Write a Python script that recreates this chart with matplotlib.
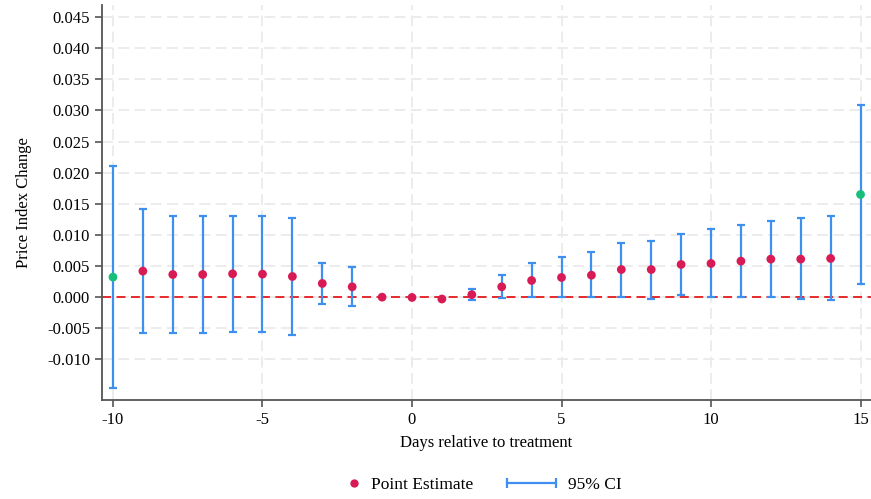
import numpy as np
import matplotlib
matplotlib.use("Agg")
import matplotlib.pyplot as plt
from matplotlib.lines import Line2D

plt.rcParams['font.family'] = ['Liberation Serif', 'DejaVu Serif']
plt.rcParams['axes.unicode_minus'] = False

# event-study estimates, days relative to treatment
days = [-10, -9, -8, -7, -6, -5, -4, -3, -2, -1, 0, 1, 2, 3, 4,
        5, 6, 7, 8, 9, 10, 11, 12, 13, 14, 15]
estimate = [0.00322, 0.00418, 0.00364, 0.00364, 0.00375, 0.00370, 0.00332,
            0.00220, 0.00166, 0.0, -0.00005, -0.00030, 0.00040, 0.00166,
            0.00268, 0.00316, 0.00353, 0.00444, 0.00444, 0.00525, 0.00541,
            0.00579, 0.00611, 0.00611, 0.00622, 0.01650]
ci_low = [-0.01458, -0.00573, -0.00573, -0.00573, -0.00562, -0.00562, -0.00605,
          -0.00107, -0.00150, None, None, None, -0.00048, -0.00010,
          0.0, 0.0, 0.0, 0.00005, -0.00027, 0.00032, 0.0,
          0.0, 0.0, -0.00037, -0.00053, 0.00209]
ci_high = [0.02100, 0.01415, 0.01302, 0.01302, 0.01302, 0.01302, 0.01270,
           0.00541, 0.00482, None, None, None, 0.00134, 0.00348,
           0.00552, 0.00643, 0.00718, 0.00873, 0.00900, 0.01013, 0.01093,
           0.01163, 0.01217, 0.01270, 0.01302, 0.03087]
# first and last windows are highlighted in green
highlight = [-10, 15]

red = '#d81b55'
green = '#16c07c'
blue = '#3d8ff0'

fig = plt.figure(figsize=(8.71, 4.99), dpi=100)
ax = fig.add_axes([0.117, 0.198, 0.883, 0.792])

ax.grid(True, color='#ebebeb', linestyle=(0, (6, 3)), linewidth=1.3)
ax.set_axisbelow(True)

ax.axhline(0, color='#e41a1c', linestyle=(0, (5, 3)), linewidth=1.3, zorder=2)

# confidence intervals (only where estimated)
ci_x = [d for d, lo in zip(days, ci_low) if lo is not None]
lo = np.array([v for v in ci_low if v is not None])
hi = np.array([v for v in ci_high if v is not None])
ax.vlines(ci_x, lo, hi, color=blue, linewidth=1.6, zorder=3)
ax.plot(ci_x, lo, linestyle='none', marker='_', markersize=6,
        markeredgewidth=1.6, color=blue, zorder=3)
ax.plot(ci_x, hi, linestyle='none', marker='_', markersize=6,
        markeredgewidth=1.6, color=blue, zorder=3)

pt_colors = [green if d in highlight else red for d in days]
ax.scatter(days, estimate, s=40, color=pt_colors, zorder=4, linewidths=0)

ax.set_xlim(-10.37, 15.35)
ax.set_ylim(-0.01656, 0.04695)
ax.set_xticks([-10, -5, 0, 5, 10, 15])
ax.set_yticks(np.arange(-0.010, 0.0451, 0.005))
ax.yaxis.set_major_formatter(plt.FuncFormatter(lambda v, p: f'{v:.3f}'))

for side in ['top', 'right']:
    ax.spines[side].set_visible(False)
for side in ['left', 'bottom']:
    ax.spines[side].set_color('#555555')
    ax.spines[side].set_linewidth(1.3)
ax.tick_params(colors='#555555', labelcolor='black', labelsize=12,
               length=5, width=1.2)

ax.set_xlabel('Days relative to treatment', fontsize=12, labelpad=5)
ax.set_ylabel('Price Index Change', fontsize=12, labelpad=11)

# legend entries below the axes
pt_handle = Line2D([], [], linestyle='none', marker='o', markersize=6,
                   markeredgewidth=0, color=red)
ci_handle = Line2D([], [], color=blue, linewidth=1.6, marker='|',
                   markersize=7, markeredgewidth=1.6)
fig.legend([pt_handle], ['Point Estimate'], loc='center left',
           bbox_to_anchor=(345 / 871, 0.028), frameon=False, fontsize=12.5,
           handlelength=1.0, handletextpad=0.5, borderpad=0, borderaxespad=0)
fig.legend([ci_handle], ['95% CI'], loc='center left', numpoints=2,
           bbox_to_anchor=(502 / 871, 0.028), frameon=False, fontsize=12.5,
           handlelength=3.4, handletextpad=0.4, borderpad=0, borderaxespad=0)

fig.savefig('out.png', dpi=100)
